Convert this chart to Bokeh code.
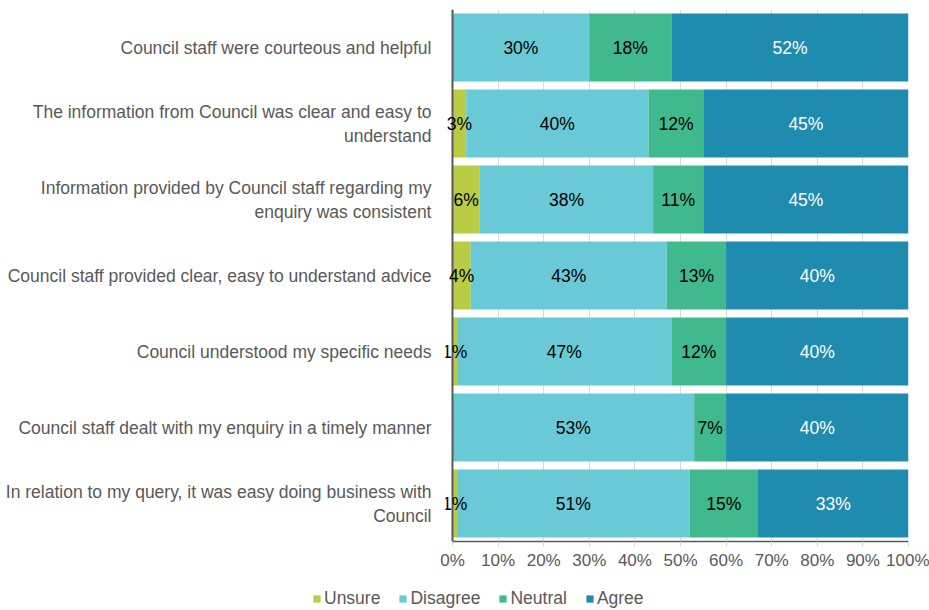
from bokeh.plotting import figure
from bokeh.layouts import column
from bokeh.models import (ColumnDataSource, FactorRange, Legend, LegendItem, FixedTicker,
                          Label, Range1d, Span)
from bokeh.embed import file_html
from bokeh.resources import INLINE

statements = [
    "Council staff were courteous and helpful",
    "The information from Council was clear and easy to\nunderstand",
    "Information provided by Council staff regarding my\nenquiry was consistent",
    "Council staff provided clear, easy to understand advice",
    "Council understood my specific needs",
    "Council staff dealt with my enquiry in a timely manner",
    "In relation to my query, it was easy doing business with\nCouncil",
]
series = ["Unsure", "Disagree", "Neutral", "Agree"]
unsure = [0, 3, 6, 4, 1, 0, 1]
disagree = [30, 40, 38, 43, 47, 53, 51]
neutral = [18, 12, 11, 13, 12, 7, 15]
agree = [52, 45, 45, 40, 40, 40, 33]
colors = ["#B9CC44", "#69C9D6", "#3FB98D", "#1F8BAF"]
label_colors = ["#000000", "#000000", "#000000", "#FFFFFF"]
ticks = [0, 10, 20, 30, 40, 50, 60, 70, 80, 90, 100]

FONT = "Liberation Sans"
FS = "17.5px"
GREY = "#595959"

data = {"cat": statements, "Unsure": unsure, "Disagree": disagree, "Neutral": neutral, "Agree": agree}
src = ColumnDataSource(data)
factors = list(reversed(statements))

# frame starts a few pixels left of 0% so the small value labels are not clipped
p = figure(width=929, height=580, output_backend="svg", toolbar_location=None,
           y_range=FactorRange(factors=factors, range_padding=0, factor_padding=0),
           x_range=Range1d(-1.535, 100), min_border_top=9, min_border_right=21, min_border_left=445,
           min_border_bottom=39)
p.outline_line_color = None
p.frame_align = False

p.hbar_stack(series, y="cat", height=0.895, color=colors, source=src, line_color=None)

p.add_layout(Span(location=0, dimension="height", line_color=GREY, line_width=2))

# value labels; y is the categorical axis' synthetic coordinate of each statement
vals = [unsure, disagree, neutral, agree]
cum = [0] * len(statements)
for s, v, lc in zip(series, vals, label_colors):
    for i, cat in enumerate(statements):
        if v[i] > 0:
            p.add_layout(Label(x=cum[i] + v[i] / 2, y=factors.index(cat) + 0.5, text=f"{v[i]}%",
                               text_align="center", text_baseline="middle",
                               text_font=FONT, text_font_size=FS, text_color=lc))
        cum[i] += v[i]

p.xaxis.ticker = FixedTicker(ticks=ticks)
p.xaxis.bounds = (0, 100)
p.xaxis.major_label_overrides = {t: f"{t}%" for t in ticks}
p.xaxis.axis_line_color = GREY
p.xaxis.axis_line_width = 1.5
p.xaxis.major_tick_line_color = "#D9D9D9"
p.xaxis.major_tick_out = 5
p.xaxis.major_tick_in = 0
p.xaxis.minor_tick_line_color = None
p.xaxis.major_label_text_font = FONT
p.xaxis.major_label_text_font_size = "17px"
p.xaxis.major_label_text_color = GREY
p.xaxis.major_label_standoff = 4

p.yaxis.axis_line_color = None
p.yaxis.major_tick_line_color = None
p.yaxis.minor_tick_line_color = None
p.yaxis.major_label_text_font = FONT
p.yaxis.major_label_text_font_size = FS
p.yaxis.major_label_text_color = GREY
p.yaxis.major_label_text_align = "center"
p.yaxis.major_label_standoff = 8

p.xgrid.grid_line_color = "#D9D9D9"
p.ygrid.grid_line_color = None
p.xgrid.level = "underlay"

# legend strip: same data drawn outside the visible x range, only the legend shows
p2 = figure(width=929, height=30, output_backend="svg", toolbar_location=None,
            y_range=FactorRange(factors=factors), x_range=Range1d(-20, -10),
            min_border_top=0, min_border_bottom=0, min_border_left=0, min_border_right=0)
p2.frame_align = False
p2.outline_line_color = None
p2.xaxis.visible = False
p2.yaxis.visible = False
p2.grid.grid_line_color = None
leg_rs = p2.hbar_stack(series, y="cat", height=0.895, color=colors, source=src, line_color=None)
items = [LegendItem(label=s, renderers=[r]) for s, r in zip(series, leg_rs)]
legend = Legend(items=items, orientation="horizontal", location=(312, 1),
                label_text_font=FONT, label_text_font_size="17.5px", label_text_color=GREY,
                glyph_width=9, glyph_height=9, spacing=18, label_standoff=3,
                border_line_color=None, background_fill_alpha=0, padding=0, margin=0)
p2.add_layout(legend)

layout = column(p, p2, spacing=0)
open("out.html", "w").write(file_html(layout, INLINE))
